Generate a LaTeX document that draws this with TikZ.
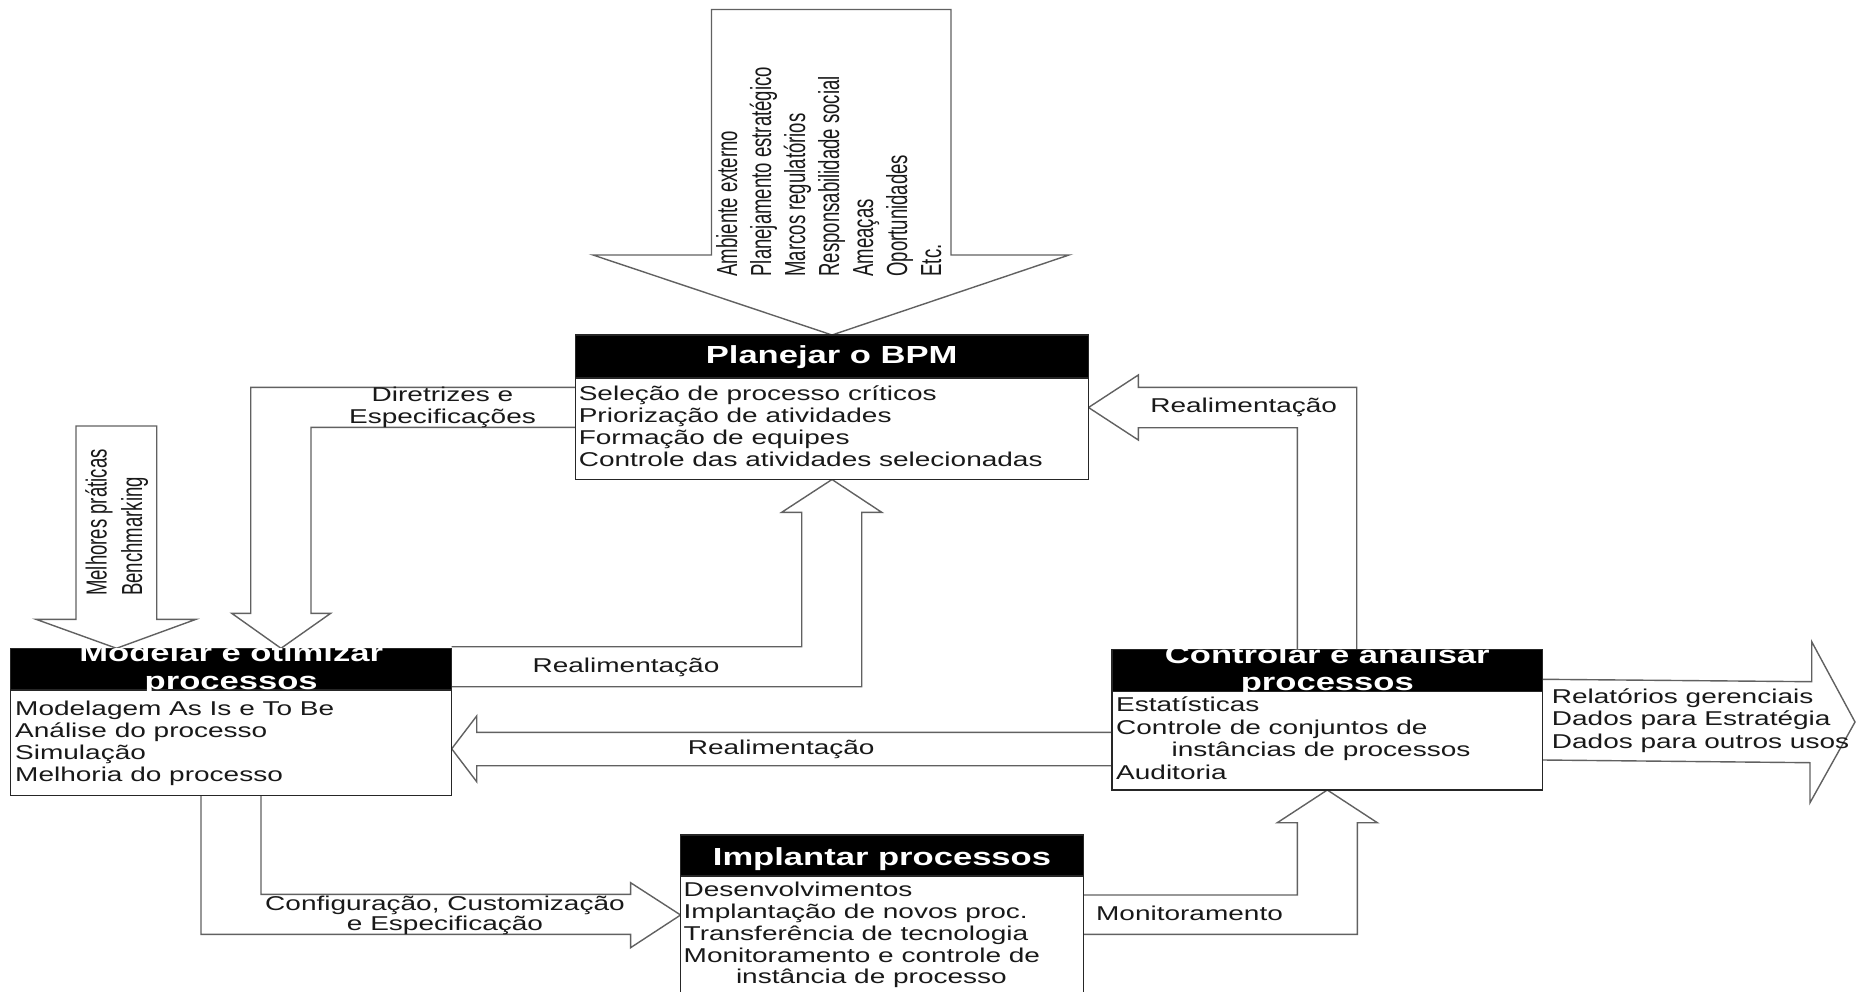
\documentclass[tikz,border=0pt]{standalone}
\usepackage{fontspec}
\setmainfont{Liberation Sans}
% wide face for horizontal text, narrow face for the upright columns
\newfontfamily\widefont[FakeStretch=1.4]{Liberation Sans}
\newfontfamily\narrowfont[FakeStretch=0.64]{Liberation Sans}

% stacked lines with a fixed line pitch; the baseline is that of the first line
\newcommand\lstack[2]{\vtop{\baselineskip=#1\relax\lineskiplimit=-1000pt\relax
  \halign{##\hfil\cr#2\crcr}}}
\newcommand\cstack[2]{\vtop{\baselineskip=#1\relax\lineskiplimit=-1000pt\relax
  \halign{\hfil##\hfil\cr#2\crcr}}}

\pgfdeclarelayer{back}
\pgfsetlayers{back,main}

\tikzset{
  frame/.style={draw=black!85, line width=1.4pt, fill=white, inner sep=0pt, outer sep=0pt, anchor=north west},
  headbar/.style={fill=black, draw=black!85, line width=1.4pt, inner sep=0pt, outer sep=0pt, anchor=north west},
  barrow/.style={draw=black!62, line width=1.4pt, line join=miter, fill=white},
  title/.style={text=white, font={\widefont\bfseries\fontsize{24.7}{27}\selectfont}, inner sep=0pt, anchor=base},
  body/.style={text=black!90, font={\widefont\fontsize{20}{22}\selectfont}, inner sep=0pt, anchor=base west},
  lbl/.style={text=black!90, font={\widefont\fontsize{20}{22}\selectfont}, inner sep=0pt, anchor=base},
  vtxt/.style={text=black!90, font={\narrowfont\fontsize{29}{32}\selectfont}, inner sep=0pt, anchor=base west, rotate=90},
}

\begin{document}
\begin{tikzpicture}[x=1pt,y=-1pt]
\useasboundingbox (0,0) rectangle (1856,992);

% ---------- process boxes ----------
\node[frame, minimum width=513pt, minimum height=144.5pt] (plan) at (575.5,335) {};
\node[headbar, minimum width=513pt, minimum height=43pt] (planH) at (575.5,335) {};

\node[frame, minimum width=441pt, minimum height=147.4pt] (mod) at (10.7,648.3) {};
\node[headbar, minimum width=441pt, minimum height=41.7pt] (modH) at (10.7,648.3) {};

\node[frame, minimum width=430.6pt, minimum height=140.7pt] (ctl) at (1112,649.3) {};
\node[headbar, minimum width=430.6pt, minimum height=42.4pt] (ctlH) at (1112,649.3) {};

\node[frame, minimum width=402.7pt, minimum height=170pt] (imp) at (680.6,835) {};
\node[headbar, minimum width=402.7pt, minimum height=41pt] (impH) at (680.6,835) {};

% ---------- titles ----------
\node[title] (planT) at (831.7,363.5) {Planejar o BPM};
\begin{scope}
  \clip (10.7,648.3) rectangle (451.7,690);
  \node[title] (modT) at (231.2,661.7) {\cstack{27.6pt}{Modelar e otimizar\cr processos}};
\end{scope}
\begin{scope}
  \clip (1112,649.3) rectangle (1542.6,691.7);
  \node[title] (ctlT) at (1327.3,663.3) {\cstack{26.7pt}{Controlar e analisar\cr processos}};
\end{scope}
\node[title] (impT) at (882,865) {Implantar processos};

% ---------- box contents ----------
\node[body] (planB) at (578.6,400) {\lstack{22.3pt}{Seleção de processo críticos\cr
  Priorização de atividades\cr Formação de equipes\cr Controle das atividades selecionadas}};
\node[body] (modB) at (15,715) {\lstack{22.2pt}{Modelagem As Is e To Be\cr
  Análise do processo\cr Simulação\cr Melhoria do processo}};
\node[body] (ctlB) at (1116,711.7) {\lstack{22.5pt}{Estatísticas\cr
  Controle de conjuntos de\cr \hskip55.4pt instâncias de processos\cr Auditoria}};
\node[body] (impB) at (683.5,896.7) {\lstack{21.8pt}{Desenvolvimentos\cr
  Implantação de novos proc.\cr Transferência de tecnologia\cr
  Monitoramento e controle de\cr \hskip52.3pt instância de processo}};

% ---------- block arrows ----------
\coordinate (envtop) at (831,9.5);
\coordinate (bestop) at (116.5,426);
\coordinate (outtip) at (1855,722);
\begin{pgfonlayer}{back}
  \fill[white] (0,0) rectangle (1856,992);
  % external inputs to planning
  \draw[barrow] (711.5,9.5) -- (envtop) -- (951,9.5) -- (951,255) -- (1069,255)
    -- (plan.north) -- (593,255) -- (711.5,255) -- cycle;
  % best practices into modelling
  \draw[barrow] (76,426) -- (bestop) -- (156.7,426) -- (156.7,619.3) -- (196,619.3)
    -- (mod.north -| 116.5,0) -- (36,619.3) -- (76,619.3) -- cycle;
  % guidelines: planning -> modelling
  \draw[barrow] (plan.west |- 0,387.3) -- (250.7,387.3) -- (250.7,613.3) -- (231.7,613.3)
    -- (mod.north -| 281,0) -- (330.7,613.3) -- (311,613.3) -- (311,427.3)
    -- (plan.west |- 0,427.3);
  % feedback: modelling -> planning
  \draw[barrow] (mod.east |- 0,646.7) -- (801.7,646.7) -- (801.7,512.3) -- (781.7,512.3)
    -- (plan.south) -- (881.7,512.3) -- (861.7,512.3) -- (861.7,686.7)
    -- (mod.east |- 0,686.7);
  % feedback: control -> modelling
  \draw[barrow] (ctl.west |- 0,732.3) -- (476.7,732.3) -- (476.7,716)
    -- (mod.east |- 0,748.8) -- (476.7,781.7) -- (476.7,765.7) -- (ctl.west |- 0,765.7);
  % feedback: control -> planning
  \draw[barrow] (ctl.north -| 1297.3,0) -- (1297.3,427.7) -- (1138.3,427.7) -- (1138.3,440)
    -- (plan.east |- 0,407.5) -- (1138.3,375) -- (1138.3,387.3) -- (1356.7,387.3)
    -- (ctl.north -| 1356.7,0);
  % configuration: modelling -> implementation
  \draw[barrow] (mod.south -| 201,0) -- (201,934.3) -- (630.6,934.3) -- (630.6,947.7)
    -- (imp.west |- 0,915) -- (630.6,882.7) -- (630.6,894.3) -- (261,894.3)
    -- (mod.south -| 261,0);
  % monitoring: implementation -> control
  \draw[barrow] (imp.east |- 0,895) -- (1297.3,895) -- (1297.3,822.7) -- (1277.3,822.7)
    -- (ctl.south) -- (1377.3,822.7) -- (1357.3,822.7) -- (1357.3,934.3)
    -- (imp.east |- 0,934.3);
  % outputs of control
  \draw[barrow] (ctl.east |- 0,679.3) -- (1811.7,681.7) -- (1811.7,641.7) -- (outtip)
    -- (1810,802.7) -- (1810,762.7) -- (ctl.east |- 0,760);
\end{pgfonlayer}

% ---------- arrow texts ----------
\node[vtxt] (envL) at (737,276.7) {\lstack{34pt}{Ambiente externo\cr
  Planejamento estratégico\cr Marcos regulatórios\cr Responsabilidade social\cr
  Ameaças\cr Oportunidades\cr Etc.}};
\node[vtxt] (bestL) at (106.5,596) {\lstack{35.7pt}{Melhores práticas\cr Benchmarking}};
\node[lbl] (dirL) at (442.5,401.7) {\cstack{21.6pt}{Diretrizes e\cr Especificações}};
\node[lbl] (fb1) at (626,672.7) {Realimentação};
\node[lbl] (fb2) at (781.2,754) {Realimentação};
\node[lbl] (fb3) at (1243.7,412.7) {Realimentação};
\node[lbl] (monL) at (1189.5,920) {Monitoramento};
\node[lbl] (cfgL) at (445,910) {\cstack{20.7pt}{Configuração, Customização\cr e Especificação}};
\node[body] (outL) at (1551.7,703.3) {\lstack{22.5pt}{Relatórios gerenciais\cr
  Dados para Estratégia\cr Dados para outros usos}};
\end{tikzpicture}
\end{document}
